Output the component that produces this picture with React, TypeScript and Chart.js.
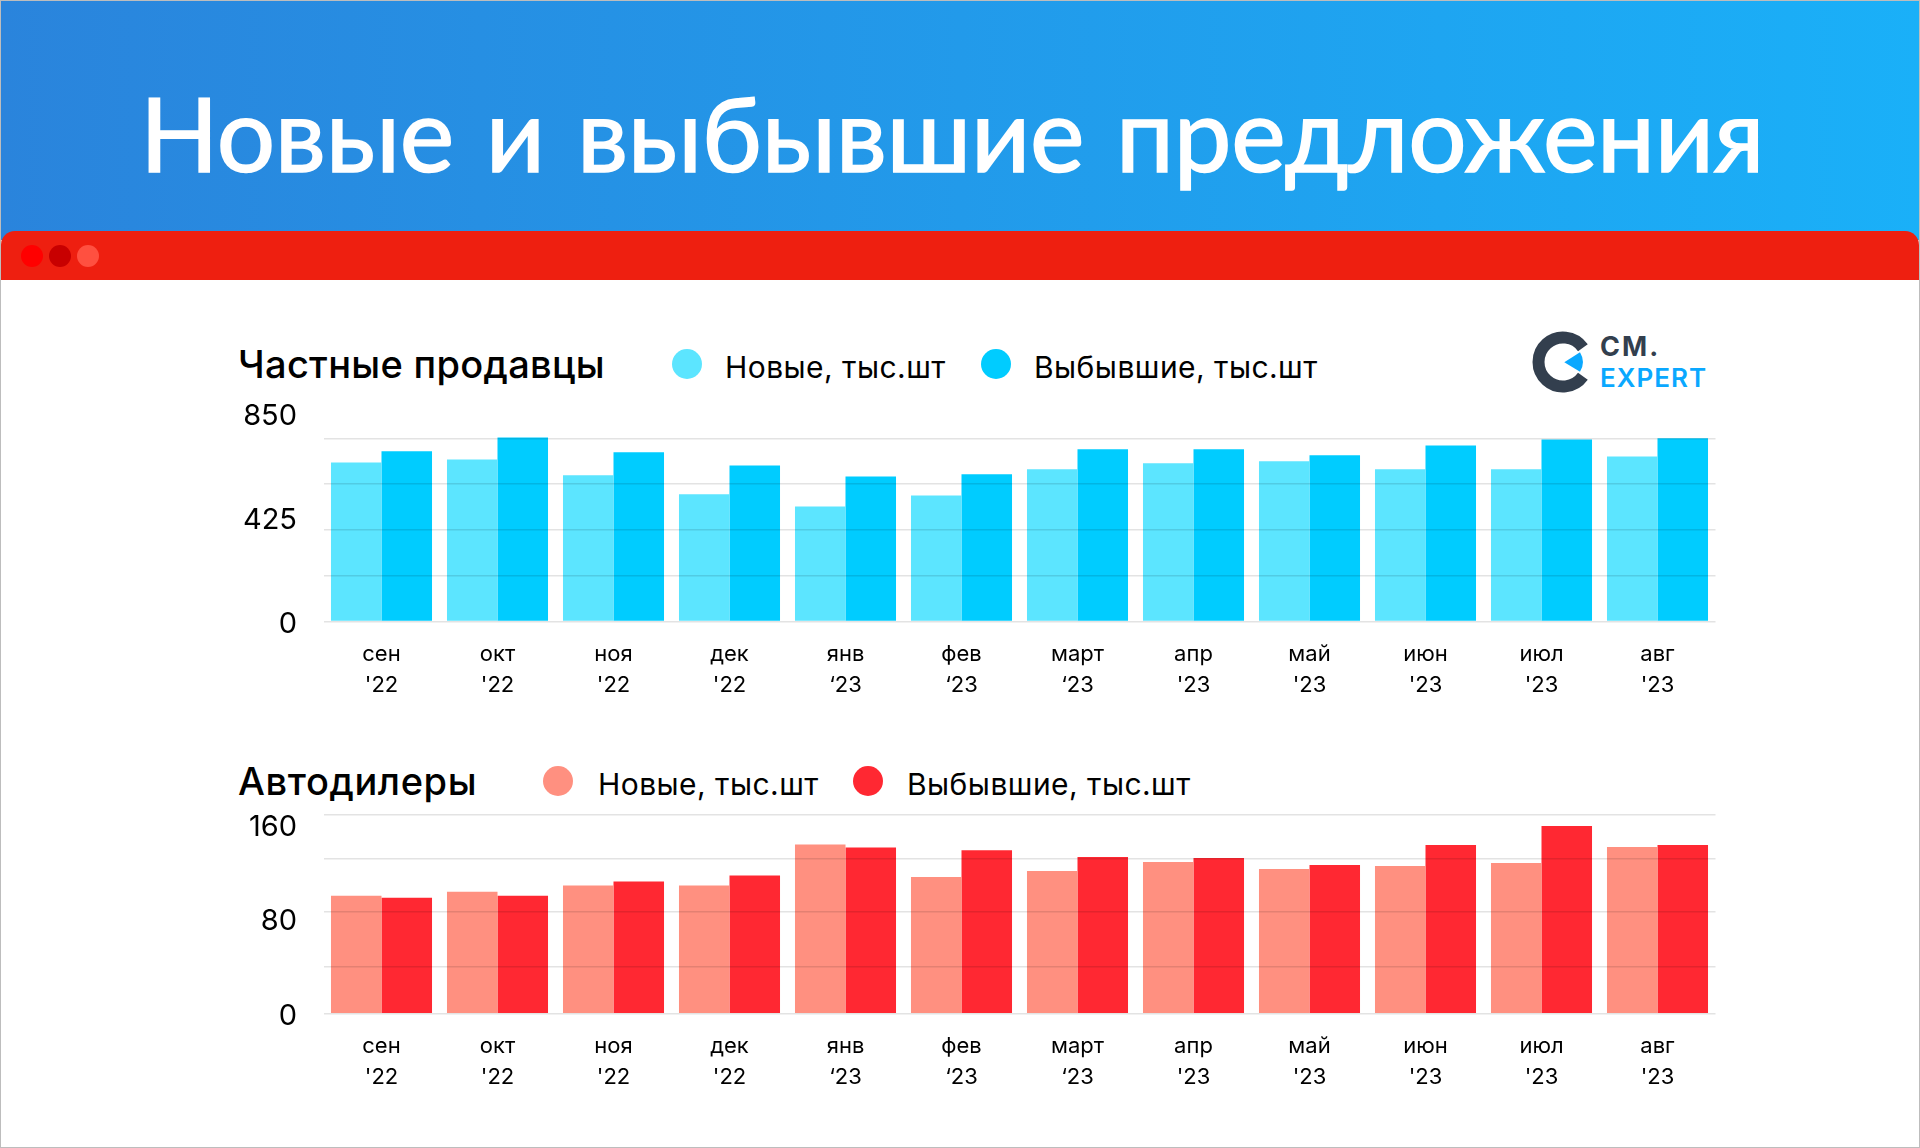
import { useEffect, useRef } from 'react';
import { Chart, registerables } from 'chart.js';

Chart.register(...registerables);

const fontFamily = 'Inter, sans-serif';

const months = ['сен', 'окт', 'ноя', 'дек', 'янв', 'фев', 'март', 'апр', 'май', 'июн', 'июл', 'авг'];
const years = ["'22", "'22", "'22", "'22", '‘23', '‘23', '‘23', "'23", "'23", "'23", "'23", "'23"];

const newLabel = 'Новые, тыс.шт';
const goneLabel = 'Выбывшие, тыс.шт';

const privateNew = [738, 752, 678, 590, 534, 585, 706, 734, 743, 706, 706, 766];
const privateGone = [790, 854, 785, 724, 673, 683, 799, 799, 771, 817, 845, 850];
const privateGrid = [0, 212.5, 425, 637.5, 850];
const privateTicks = [850, 425, 0];
const privateTickShift = [-22.5, -9.5, 2.5];

const dealerNew = [94.7, 97.9, 102.8, 102.8, 135.7, 109.6, 114.5, 121.8, 116.1, 118.5, 121, 133.8];
const dealerGone = [93.1, 94.7, 106, 110.8, 133.3, 131.1, 125.8, 125, 119.3, 135.4, 150.6, 135.4];
const dealerGrid = [0, 38, 82.1, 124.7, 160];
const dealerTicks = [160, 80, 0];
const dealerTickShift = [12.5, 7.5, 3];

type BarsProps = {
  top: number;
  height: number;
  padTop: number;
  axisHeight: number;
  max: number;
  newValues: number[];
  goneValues: number[];
  gridValues: number[];
  tickValues: number[];
  tickShift: number[];
  newColor: string;
  goneColor: string;
};

const CANVAS_LEFT = 230;
const CANVAS_WIDTH = 1500;

const Bars = ({ top, height, padTop, axisHeight, max, newValues, goneValues, gridValues, tickValues, tickShift, newColor, goneColor }: BarsProps) => {
  const canvasRef = useRef<HTMLCanvasElement | null>(null);

  useEffect(() => {
    if (!canvasRef.current) return;

    // the y labels in the picture sit off their grid lines, so they are drawn here
    const shiftedTicks = {
      id: 'shiftedTicks',
      afterDraw(chart: any) {
        const { ctx, scales } = chart;
        ctx.save();
        ctx.font = `400 29px ${fontFamily}`;
        ctx.fillStyle = '#000';
        ctx.textAlign = 'right';
        ctx.textBaseline = 'middle';
        tickValues.forEach((value, i) => {
          ctx.fillText(String(value), 67, scales.y.getPixelForValue(value) + tickShift[i]);
        });
        ctx.restore();
      },
    };

    const chart = new Chart(canvasRef.current, {
      type: 'bar',
      data: {
        labels: months.map((month, i) => [month, years[i]]),
        datasets: [
          { label: newLabel, data: newValues, backgroundColor: newColor, clip: false as any },
          { label: goneLabel, data: goneValues, backgroundColor: goneColor, clip: false as any },
        ],
      },
      options: {
        animation: false,
        responsive: false,
        devicePixelRatio: 1,
        layout: { padding: { left: 93.5, right: 14.5, top: padTop, bottom: 0 } },
        plugins: { legend: { display: false }, tooltip: { enabled: false } },
        datasets: { bar: { barPercentage: 1, categoryPercentage: 0.871 } },
        scales: {
          x: {
            grid: { display: false },
            border: { display: false },
            afterFit: (axis: any) => {
              axis.height = axisHeight;
            },
            ticks: {
              color: '#000',
              font: { family: fontFamily, size: 22, lineHeight: 1.4 },
              padding: 9.5,
              maxRotation: 0,
              autoSkip: false,
            },
          },
          y: {
            min: 0,
            max,
            afterBuildTicks: (axis: any) => {
              axis.ticks = gridValues.map((value) => ({ value }));
            },
            afterFit: (axis: any) => {
              axis.width = 0;
            },
            grid: { color: 'rgba(0,0,0,0.11)', lineWidth: 1.5, drawTicks: false, z: 1 },
            border: { display: false },
            ticks: { display: false },
          },
        },
      },
      plugins: [shiftedTicks],
    });

    return () => {
      chart.destroy();
    };
  }, []);

  return (
    <canvas
      ref={canvasRef}
      width={CANVAS_WIDTH}
      height={height}
      style={{ position: 'absolute', left: CANVAS_LEFT, top, width: CANVAS_WIDTH, height }}
    />
  );
};

const Text = ({ x, y, size, weight = 400, color = '#000', spacing = 0, font, extra, children }: any) => (
  <div
    style={{
      position: 'absolute',
      left: x,
      top: y,
      fontSize: size,
      fontWeight: weight,
      fontFamily: font,
      color,
      letterSpacing: spacing,
      lineHeight: 1,
      whiteSpace: 'nowrap',
      ...extra,
    }}
  >
    {children}
  </div>
);

const Dot = ({ x, y, r, color }: { x: number; y: number; r: number; color: string }) => (
  <div
    style={{
      position: 'absolute',
      left: x - r,
      top: y - r,
      width: r * 2,
      height: r * 2,
      borderRadius: '50%',
      background: color,
    }}
  />
);

const App = () => {
  return (
    <div
      style={{
        position: 'absolute',
        left: 0,
        top: 0,
        width: 1920,
        height: 1148,
        overflow: 'hidden',
        background: '#fff',
        fontFamily,
      }}
    >
      <div
        style={{
          position: 'absolute',
          left: 0,
          top: 0,
          width: 1920,
          height: 240,
          background: 'linear-gradient(90deg, #2a84dc 0%, #1ab0f8 100%)',
        }}
      />
      {/* Lato has no medium cut here, a thin stroke brings it up to the weight of the title */}
      <Text
        x={140}
        y={81}
        size={103}
        color="#fff"
        spacing={-0.3}
        font="Lato, sans-serif"
        extra={{ WebkitTextStroke: '1.6px #fff', wordSpacing: 6 }}
      >
        Новые и выбывшие предложения
      </Text>

      <div
        style={{
          position: 'absolute',
          left: 1,
          top: 231,
          width: 1918,
          height: 49,
          background: '#ee1f10',
          borderRadius: '14px 14px 0 0',
        }}
      />
      <Dot x={32} y={256} r={11} color="#ff0000" />
      <Dot x={60} y={256} r={11} color="#c80000" />
      <Dot x={88} y={256} r={11} color="#ff5040" />

      <Text x={238} y={345} size={38} weight={500} spacing={0.3}>Частные продавцы</Text>
      <Dot x={687} y={364} r={15} color="#5ce5ff" />
      <Text x={725} y={352} size={30} spacing={0.45}>{newLabel}</Text>
      <Dot x={996} y={364} r={15} color="#00ccff" />
      <Text x={1034} y={352} size={30} spacing={0.45}>{goneLabel}</Text>

      <svg style={{ position: 'absolute', left: 1525, top: 325 }} width={80} height={74} viewBox="0 0 80 74">
        <path d="M 57.9 22.7 A 24.5 24.5 0 1 0 57.9 51.3" fill="none" stroke="#333f4e" strokeWidth={12} />
        <path d="M 39.3 37.3 L 55 27.3 A 18.6 18.6 0 0 1 55 46.7 Z" fill="#0aa8ff" />
      </svg>
      <Text x={1600} y={333} size={27} weight={700} color="#333f4e" spacing={2}>CM.</Text>
      <Text x={1600} y={365} size={26} weight={600} color="#0aa8ff" spacing={1}>EXPERT</Text>

      <Bars
        top={400}
        height={310}
        padTop={38.3}
        axisHeight={88.5}
        max={850}
        newValues={privateNew}
        goneValues={privateGone}
        gridValues={privateGrid}
        tickValues={privateTicks}
        tickShift={privateTickShift}
        newColor="#5ce5ff"
        goneColor="#00ccff"
      />

      <Text x={238} y={762} size={38} weight={500} spacing={0.6}>Автодилеры</Text>
      <Dot x={558} y={781} r={15} color="#ff9080" />
      <Text x={598} y={769} size={30} spacing={0.45}>{newLabel}</Text>
      <Dot x={868} y={781} r={15} color="#ff2832" />
      <Text x={907} y={769} size={30} spacing={0.45}>{goneLabel}</Text>

      <Bars
        top={806}
        height={300}
        padTop={8.3}
        axisHeight={92.3}
        max={160}
        newValues={dealerNew}
        goneValues={dealerGone}
        gridValues={dealerGrid}
        tickValues={dealerTicks}
        tickShift={dealerTickShift}
        newColor="#ff9080"
        goneColor="#ff2832"
      />

      <div
        style={{
          position: 'absolute',
          left: 0,
          top: 0,
          width: 1918,
          height: 1146,
          border: '1px solid #bdbdbd',
          pointerEvents: 'none',
        }}
      />
    </div>
  );
};

export default App;
